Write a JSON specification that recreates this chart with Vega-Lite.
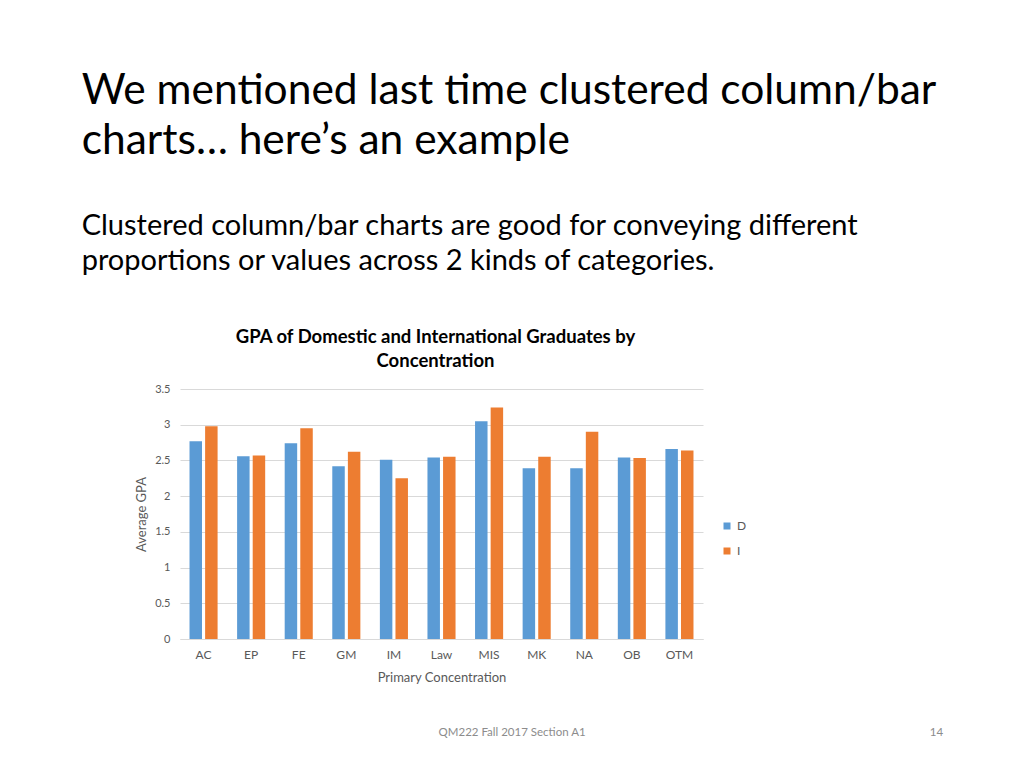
{
  "$schema": "https://vega.github.io/schema/vega-lite/v6.json",
  "background": "white",
  "padding": {"left": 81, "top": 70, "right": 10, "bottom": 10},
  "title": {
    "text": ["We mentioned last time clustered column/bar", "charts… here’s an example"],
    "subtitle": ["Clustered column/bar charts are good for conveying different", "proportions or values across 2 kinds of categories."],
    "anchor": "start",
    "frame": "bounds",
    "dx": -54,
    "font": "Lato",
    "fontSize": 42.5,
    "fontWeight": "normal",
    "lineHeight": 50,
    "color": "#000000",
    "subtitleFont": "Lato",
    "subtitleFontSize": 29,
    "subtitleLineHeight": 35,
    "subtitleColor": "#000000",
    "subtitlePadding": 49,
    "offset": 52
  },
  "config": {
    "view": {"stroke": null},
    "font": "Lato"
  },
  "spacing": 39,
  "vconcat": [
    {
      "width": 523,
      "height": 250,
      "title": {
        "text": ["GPA of Domestic and International Graduates by", "Concentration"],
        "font": "Lato",
        "fontSize": 18.5,
        "fontWeight": "bold",
        "lineHeight": 24,
        "color": "#000000",
        "anchor": "middle",
        "dx": -6,
        "offset": 13
      },
      "data": {
        "values": [
          {"concentration": "AC", "group": "D", "gpa": 2.77},
          {"concentration": "AC", "group": "I", "gpa": 2.98},
          {"concentration": "EP", "group": "D", "gpa": 2.56},
          {"concentration": "EP", "group": "I", "gpa": 2.57},
          {"concentration": "FE", "group": "D", "gpa": 2.74},
          {"concentration": "FE", "group": "I", "gpa": 2.95},
          {"concentration": "GM", "group": "D", "gpa": 2.42},
          {"concentration": "GM", "group": "I", "gpa": 2.62},
          {"concentration": "IM", "group": "D", "gpa": 2.51},
          {"concentration": "IM", "group": "I", "gpa": 2.25},
          {"concentration": "Law", "group": "D", "gpa": 2.54},
          {"concentration": "Law", "group": "I", "gpa": 2.55},
          {"concentration": "MIS", "group": "D", "gpa": 3.05},
          {"concentration": "MIS", "group": "I", "gpa": 3.24},
          {"concentration": "MK", "group": "D", "gpa": 2.39},
          {"concentration": "MK", "group": "I", "gpa": 2.55},
          {"concentration": "NA", "group": "D", "gpa": 2.39},
          {"concentration": "NA", "group": "I", "gpa": 2.9},
          {"concentration": "OB", "group": "D", "gpa": 2.54},
          {"concentration": "OB", "group": "I", "gpa": 2.535},
          {"concentration": "OTM", "group": "D", "gpa": 2.66},
          {"concentration": "OTM", "group": "I", "gpa": 2.64}
        ]
      },
      "mark": {"type": "bar"},
      "encoding": {
        "x": {
          "field": "concentration",
          "type": "nominal",
          "sort": null,
          "scale": {"paddingInner": 0.41, "paddingOuter": 0.2},
          "axis": {
            "title": "Primary Concentration",
            "titleFont": "Lato",
            "titleFontSize": 13,
            "titleFontWeight": "normal",
            "titleColor": "#595959",
            "titlePadding": 11,
            "labelAngle": 0,
            "labelFont": "Lato",
            "labelFontSize": 12,
            "labelColor": "#595959",
            "labelPadding": 10,
            "ticks": false,
            "domainColor": "#d9d9d9",
            "grid": false
          }
        },
        "xOffset": {
          "field": "group",
          "type": "nominal",
          "scale": {"paddingInner": 0.2}
        },
        "y": {
          "field": "gpa",
          "type": "quantitative",
          "scale": {"domain": [0, 3.5]},
          "axis": {
            "title": "Average GPA",
            "titleFont": "Lato",
            "titleFontSize": 13,
            "titleFontWeight": "normal",
            "titleColor": "#595959",
            "titlePadding": 6,
            "values": [0, 0.5, 1, 1.5, 2, 2.5, 3, 3.5],
            "format": "~g",
            "labelFont": "Lato",
            "labelFontSize": 11,
            "labelColor": "#595959",
            "labelPadding": 10,
            "ticks": false,
            "domain": false,
            "gridColor": "#d9d9d9"
          }
        },
        "color": {
          "field": "group",
          "type": "nominal",
          "scale": {"domain": ["D", "I"], "range": ["#5b9bd5", "#ed7d31"]},
          "legend": {
            "title": null,
            "orient": "none",
            "legendX": 541,
            "legendY": 131,
            "symbolType": "square",
            "symbolSize": 49,
            "rowPadding": 13,
            "labelFont": "Lato",
            "labelFontSize": 12,
            "labelColor": "#595959"
          }
        }
      }
    },
    {
      "width": 810,
      "height": 20,
      "data": {
        "values": [
          {"label": "QM222 Fall 2017 Section A1", "pos": 0.41},
          {"label": "14", "pos": 0.934}
        ]
      },
      "mark": {"type": "text", "font": "Lato", "fontSize": 11.5, "color": "#8c8c8c"},
      "encoding": {
        "x": {"field": "pos", "type": "quantitative", "scale": {"domain": [0, 1]}, "axis": null},
        "text": {"field": "label", "type": "nominal"}
      }
    }
  ]
}
